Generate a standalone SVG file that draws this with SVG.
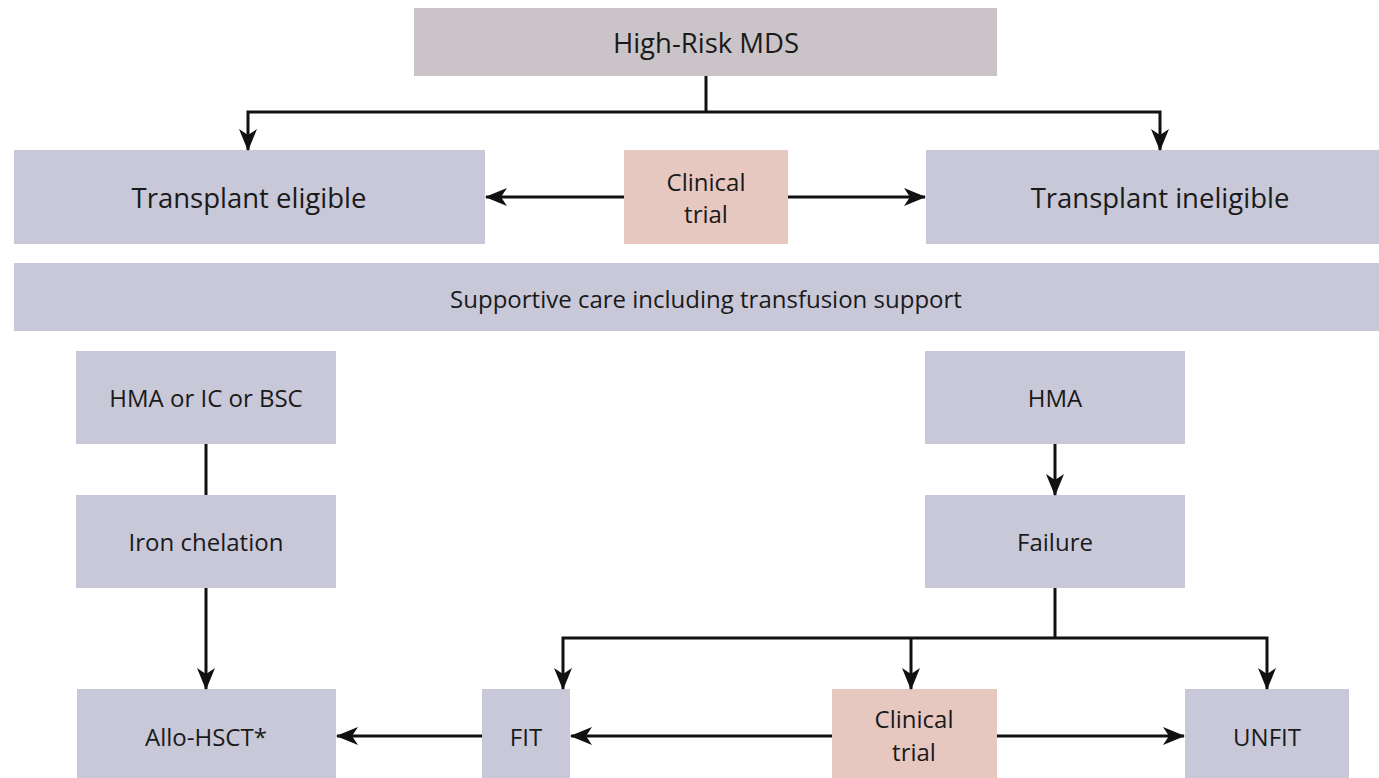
<svg xmlns="http://www.w3.org/2000/svg" width="1379" height="778" viewBox="0 0 1379 778">
<style>
.n{fill:#c8c8d8}
.g{fill:#cac4c8}
.p{fill:#e6c8c1}
text{font-family:"Open Sans","Liberation Sans",sans-serif;fill:#1a1a1a;text-anchor:middle;dominant-baseline:central}
.t{font-size:27.5px}
.s{font-size:24px}
.c{stroke:#111;stroke-width:3;fill:none}
</style>
<defs>
<marker id="ah" viewBox="0 0 22 18" refX="21" refY="9" markerWidth="22" markerHeight="18" markerUnits="userSpaceOnUse" orient="auto">
<path d="M0,0 L22,9 L0,18 L6,9 z" fill="#111"/>
</marker>
</defs>
<rect width="1379" height="778" fill="#fff"/>
<g id="high-risk"><rect class="g" x="414" y="8" width="583" height="68"/><text class="t" x="706" y="42">High-Risk MDS</text></g>
<g id="eligible"><rect class="n" x="14" y="150" width="471" height="94"/><text class="t" x="249" y="197">Transplant eligible</text></g>
<g id="trial1"><rect class="p" x="624" y="150" width="164" height="94"/><text class="s" x="706" y="181">Clinical</text><text class="s" x="706" y="213">trial</text></g>
<g id="ineligible"><rect class="n" x="926" y="150" width="453" height="94"/><text class="t" x="1160" y="197">Transplant ineligible</text></g>
<g id="supportive"><rect class="n" x="14" y="263" width="1365" height="68"/><text class="s" x="706" y="298">Supportive care including transfusion support</text></g>
<g id="hma-ic-bsc"><rect class="n" x="76" y="351" width="260" height="93"/><text class="s" x="206" y="397">HMA or IC or BSC</text></g>
<g id="iron"><rect class="n" x="76" y="495" width="260" height="93"/><text class="s" x="206" y="541">Iron chelation</text></g>
<g id="allo"><rect class="n" x="77" y="689" width="259" height="89"/><text class="s" x="206" y="736">Allo-HSCT*</text></g>
<g id="hma"><rect class="n" x="925" y="351" width="260" height="93"/><text class="s" x="1055" y="397">HMA</text></g>
<g id="failure"><rect class="n" x="925" y="495" width="260" height="93"/><text class="s" x="1055" y="541">Failure</text></g>
<g id="fit"><rect class="n" x="482" y="689" width="88" height="89"/><text class="s" x="526" y="736">FIT</text></g>
<g id="trial2"><rect class="p" x="832" y="689" width="165" height="89"/><text class="s" x="914" y="718">Clinical</text><text class="s" x="914" y="751">trial</text></g>
<g id="unfit"><rect class="n" x="1185" y="689" width="164" height="89"/><text class="s" x="1267" y="736">UNFIT</text></g>
<g id="connectors" class="c">
<path d="M706,76 V112"/>
<path d="M706,112 H248 V150" marker-end="url(#ah)"/>
<path d="M706,112 H1160 V150" marker-end="url(#ah)"/>
<path d="M624,197 H486" marker-end="url(#ah)"/>
<path d="M788,197 H925" marker-end="url(#ah)"/>
<path d="M206,444 V495"/>
<path d="M206,588 V689" marker-end="url(#ah)"/>
<path d="M1055,444 V495" marker-end="url(#ah)"/>
<path d="M1055,588 V638"/>
<path d="M1055,638 H563 V689" marker-end="url(#ah)"/>
<path d="M911,638 V689" marker-end="url(#ah)"/>
<path d="M1055,638 H1267 V689" marker-end="url(#ah)"/>
<path d="M482,736 H337" marker-end="url(#ah)"/>
<path d="M832,736 H571" marker-end="url(#ah)"/>
<path d="M997,736 H1184" marker-end="url(#ah)"/>
</g>
</svg>
